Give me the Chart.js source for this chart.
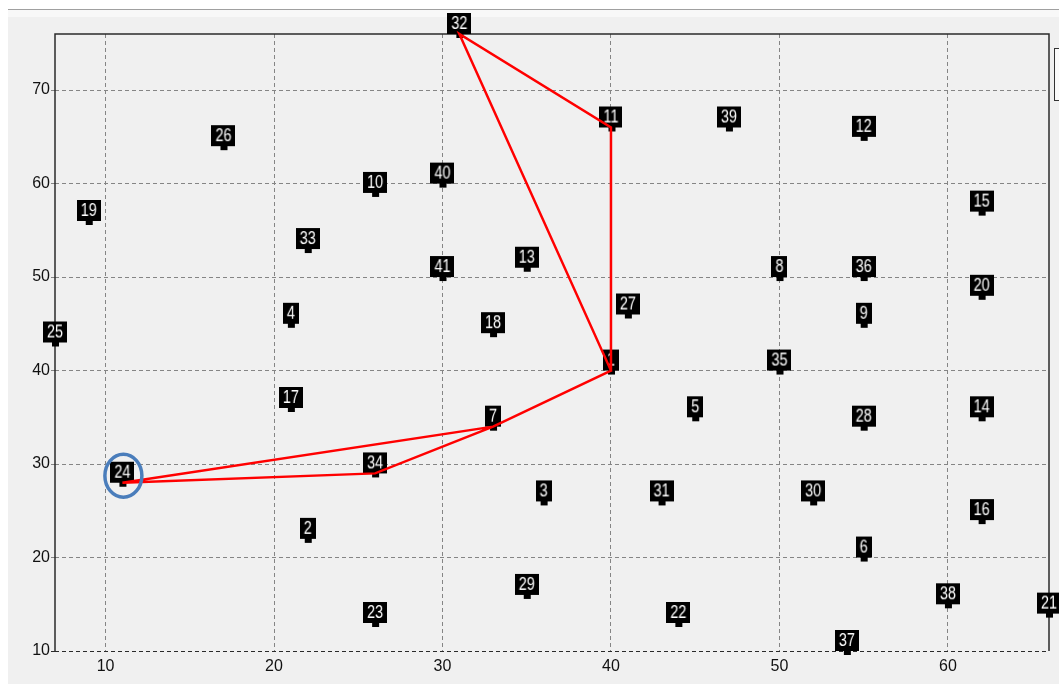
<!DOCTYPE html>
<html>
<head>
<meta charset="utf-8">
<title>Route</title>
<script src="https://cdn.jsdelivr.net/npm/chart.js@4.4.1/dist/chart.umd.min.js"></script>
<style>
  html, body { margin: 0; padding: 0; background: #fff; }
  #panel {
    position: absolute; left: 8px; top: 9px; width: 1051px; height: 675px;
    border-top: 1px solid #a0a0a0;
    background: linear-gradient(#f8f8f8 0px, #f8f8f8 7px, #f0f0f0 7px);
  }
  #legendBox {
    position: absolute; left: 1054px; top: 48px; width: 20px; height: 51px;
    border: 1px solid #333; background: #fbfbfb;
  }
  #chart { position: absolute; left: 0; top: 0; }
</style>
</head>
<body>
<div id="panel"></div>
<div id="legendBox"></div>
<canvas id="chart" width="1059" height="684"></canvas>
<script>
// nodes of the map: id, x, y
var nodeIds = [1, 2, 3, 4, 5, 6, 7, 8, 9, 10, 11, 12, 13, 14, 15, 16, 17, 18, 19, 20, 21,
               22, 23, 24, 25, 26, 27, 28, 29, 30, 31, 32, 33, 34, 35, 36, 37, 38, 39, 40, 41];
var nodeX = [40, 22, 36, 21, 45, 55, 33, 50, 55, 26, 40, 55, 35, 62, 62, 62, 21, 33, 9, 62, 66,
             44, 26, 11, 7, 17, 41, 55, 35, 52, 43, 31, 22, 26, 50, 55, 54, 60, 47, 30, 30];
var nodeY = [40, 22, 26, 45, 35, 20, 34, 50, 45, 59, 66, 65, 51, 35, 57, 24, 36, 44, 56, 48, 14,
             13, 13, 28, 43, 64, 46, 34, 16, 26, 26, 76, 53, 29, 40, 50, 10, 15, 66, 60, 50];

// visiting order of the route, starting and ending at the depot
var route = [24, 34, 7, 1, 32, 11, 1, 7, 24];
var depot = 24;

// axis ranges and tick labels
var xMin = 7, xMax = 66;
var yMin = 10, yMax = 76;
var xTicks = [10, 20, 30, 40, 50, 60];
var yTicks = [10, 20, 30, 40, 50, 60, 70];

var LABEL_FONT = "18px 'Liberation Sans', sans-serif";
var LABEL_SQUEEZE = 0.8;   // narrow the tag digits a bit
var TICK_FONT = { family: "'Liberation Sans', sans-serif", size: 16 };

// black tag with a little pin underneath; the pin sits on the canvas centre
function makePin(text) {
  var c = document.createElement('canvas');
  var ctx = c.getContext('2d');
  ctx.font = LABEL_FONT;
  var tw = ctx.measureText(text).width * LABEL_SQUEEZE;
  var w = Math.round(tw) + 8;
  c.width = w;
  c.height = 46;
  ctx = c.getContext('2d');
  ctx.fillStyle = '#000';
  ctx.fillRect(0, 2, w, 21);
  ctx.fillRect(Math.round(w / 2) - 3, 23, 7, 4);
  ctx.save();
  ctx.translate(w / 2, 18);
  ctx.scale(LABEL_SQUEEZE, 1);
  ctx.font = LABEL_FONT;
  ctx.fillStyle = '#fff';
  ctx.textAlign = 'center';
  ctx.fillText(text, 0, 0);
  ctx.restore();
  return c;
}

function nodePoint(id) {
  var i = nodeIds.indexOf(id);
  return { x: nodeX[i], y: nodeY[i] };
}

var nodeData = nodeIds.map(nodePoint);
var routeData = route.map(nodePoint);
var pins = nodeIds.map(function (id) { return makePin(String(id)); });

// plot frame: left, top and right edges solid, bottom is the dashed 10 grid line
var framePlugin = {
  id: 'frame',
  beforeDatasetsDraw: function (chart) {
    var a = chart.chartArea, ctx = chart.ctx;
    ctx.save();
    ctx.strokeStyle = '#2a2a2a';
    ctx.lineWidth = 1.5;
    ctx.beginPath();
    ctx.moveTo(a.left, a.bottom);
    ctx.lineTo(a.left, a.top);
    ctx.lineTo(a.right, a.top);
    ctx.lineTo(a.right, a.bottom);
    ctx.stroke();
    ctx.restore();
  }
};

// blue ring around the depot
var depotPlugin = {
  id: 'depotRing',
  afterDatasetsDraw: function (chart) {
    var p = nodePoint(depot);
    var cx = chart.scales.x.getPixelForValue(p.x) + 1;
    var cy = chart.scales.y.getPixelForValue(p.y) - 7;
    var ctx = chart.ctx;
    ctx.save();
    ctx.strokeStyle = '#4a7dbb';
    ctx.lineWidth = 3.5;
    ctx.beginPath();
    ctx.ellipse(cx, cy, 18.5, 21.5, 0, 0, Math.PI * 2);
    ctx.stroke();
    ctx.restore();
  }
};

function keepTicks(list) {
  return function (scale) {
    scale.ticks = list.map(function (v) { return { value: v }; });
  };
}

new Chart(document.getElementById('chart'), {
  type: 'scatter',
  data: {
    datasets: [{
      label: 'Route',
      data: routeData,
      showLine: true,
      borderColor: '#ff0000',
      borderWidth: 2.5,
      pointRadius: 0,
      clip: false
    }, {
      label: 'Nodes',
      data: nodeData,
      pointStyle: pins,
      pointRadius: 3,
      clip: false
    }]
  },
  options: {
    responsive: false,
    animation: false,
    events: [],
    layout: { padding: { left: 0, top: 34, right: 10, bottom: 0 } },
    plugins: { legend: { display: false }, tooltip: { enabled: false } },
    scales: {
      x: {
        type: 'linear',
        min: xMin,
        max: xMax,
        afterBuildTicks: keepTicks(xTicks),
        afterFit: function (s) { s.height = 33; },
        grid: { color: '#858585', lineWidth: 1, drawTicks: false },
        border: { display: false, dash: [4, 3] },
        ticks: { color: '#111', font: TICK_FONT, padding: 6, maxRotation: 0 }
      },
      y: {
        type: 'linear',
        min: yMin,
        max: yMax,
        afterBuildTicks: keepTicks(yTicks),
        afterFit: function (s) { s.width = 55; },
        grid: {
          color: function (c) { return c.tick && c.tick.value === yMin ? '#2a2a2a' : '#858585'; },
          lineWidth: 1,
          tickLength: 4
        },
        border: { display: false, dash: [4, 3] },
        ticks: { color: '#111', font: TICK_FONT, padding: 1 }
      }
    }
  },
  plugins: [framePlugin, depotPlugin]
});
</script>
</body>
</html>
